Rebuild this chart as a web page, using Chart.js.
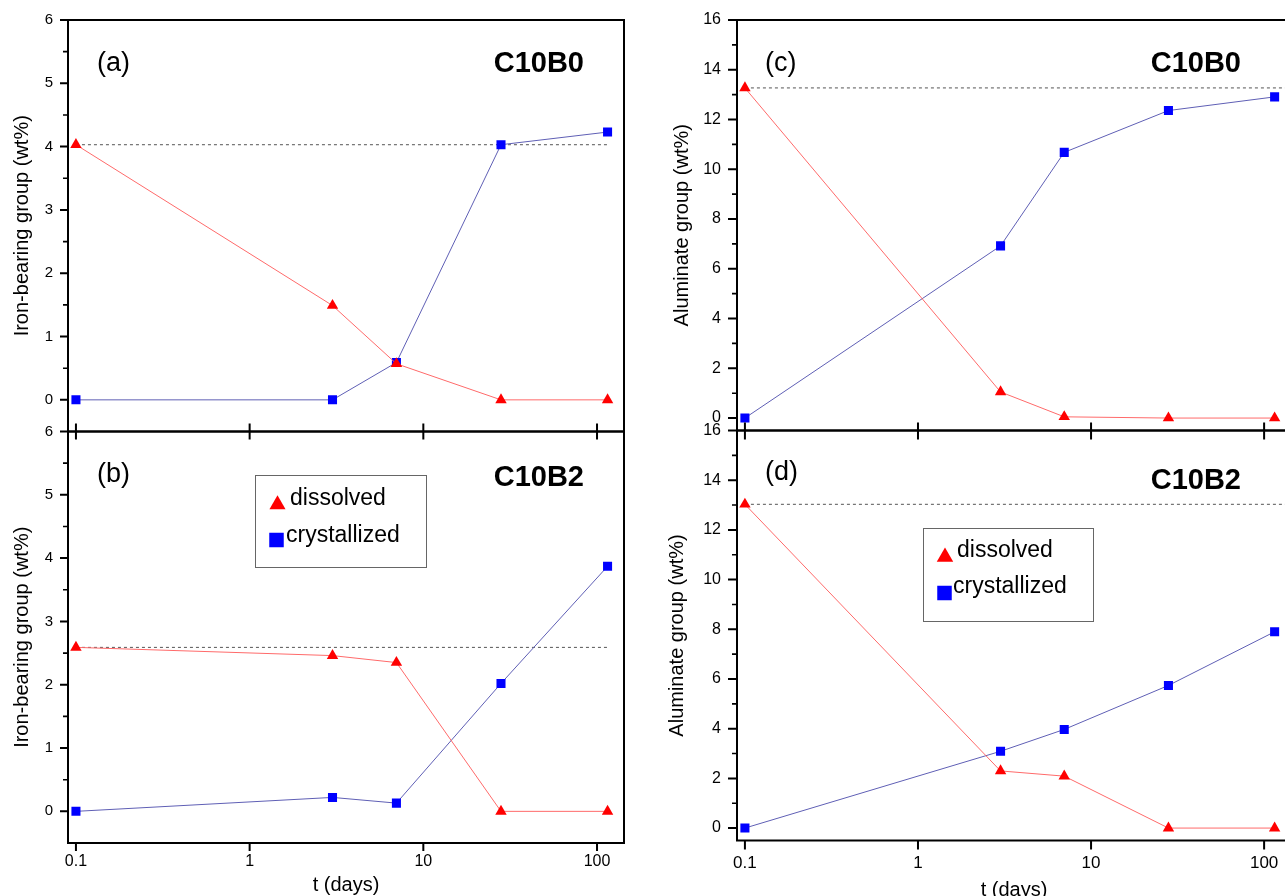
<!DOCTYPE html>
<html><head><meta charset="utf-8">
<script src="https://cdn.jsdelivr.net/npm/chart.js@4/dist/chart.umd.min.js"></script>
<style>
html,body{margin:0;padding:0;background:#fff;width:1285px;height:896px;overflow:hidden}
#wrap{position:relative;width:1285px;height:896px;overflow:hidden;background:#fff}
canvas{position:absolute}
</style></head><body>
<div id="wrap">
<canvas id="cA" width="640" height="445" style="left:0;top:0"></canvas>
<canvas id="cB" width="640" height="490" style="left:0;top:420px"></canvas>
<canvas id="cC" width="680" height="445" style="left:640px;top:0"></canvas>
<canvas id="cD" width="680" height="490" style="left:640px;top:420px"></canvas>
</div>
<script>
// ---- data ----
const days = [0.1, 3, 7, 28, 115];
const ironDissolvedB0 = [4.03, 1.49, 0.57, 0, 0];
const ironCrystB0     = [0, 0, 0.59, 4.03, 4.23];
const ironDissolvedB2 = [2.59, 2.46, 2.35, 0, 0];
const ironCrystB2     = [0, 0.22, 0.13, 2.02, 3.87];
const alDissolvedB0   = [13.27, 1.05, 0.05, 0, 0];
const alCrystB0       = [0, 6.92, 10.68, 12.36, 12.91];
const alDissolvedB2   = [13.03, 2.3, 2.09, 0, 0];
const alCrystB2       = [0, 3.09, 3.97, 5.74, 7.9];
const initialIronB0 = 4.03, initialIronB2 = 2.59, initialAlB0 = 13.27, initialAlB2 = 13.03;
const xTickValues = [0.1, 1, 10, 100];
const ironTicks = [0, 1, 2, 3, 4, 5, 6];
const ironMinor = [0.5, 1.5, 2.5, 3.5, 4.5, 5.5];
const alTicks = [0, 2, 4, 6, 8, 10, 12, 14, 16];
const alMinor = [1, 3, 5, 7, 9, 11, 13, 15];
const seriesNames = ['dissolved', 'crystallized'];
const panelTags = ['(a)', '(b)', '(c)', '(d)'];
const sampleNames = ['C10B0', 'C10B2'];
const ironTitle = 'Iron-bearing group (wt%)';
const alTitle = 'Aluminate group (wt%)';
const xTitle = 't (days)';

const X_MIN = 0.09, X_MAX = 143;
const FONT = '"Liberation Sans", Arial, Helvetica, sans-serif';
const RED = '#ff0000', BLUE = '#0000ff';

const toXY = (xs, ys) => xs.map((v, i) => ({x: v, y: ys[i]}));

const decoPlugin = {
  id: 'panelDeco',
  afterDraw(chart, args, o) {
    const {ctx, chartArea: a} = chart;
    const x = chart.scales.x, y = chart.scales.y;
    ctx.save();
    ctx.lineCap = 'butt';
    ctx.strokeStyle = '#000';
    ctx.lineWidth = 2;
    ctx.strokeRect(a.left, a.top, a.right - a.left, a.bottom - a.top);
    ctx.beginPath();
    o.yMajor.forEach(v => { const p = y.getPixelForValue(v); ctx.moveTo(a.left - o.majorLen, p); ctx.lineTo(a.left, p); });
    ctx.stroke();
    ctx.lineWidth = 1.6;
    ctx.beginPath();
    o.yMinor.forEach(v => { const p = y.getPixelForValue(v); ctx.moveTo(a.left - o.minorLen, p); ctx.lineTo(a.left, p); });
    ctx.stroke();
    ctx.lineWidth = 2;
    ctx.beginPath();
    xTickValues.forEach(v => { const p = x.getPixelForValue(v); ctx.moveTo(p, a.bottom - o.xUp); ctx.lineTo(p, a.bottom + o.xDown); });
    ctx.stroke();

    ctx.fillStyle = '#000';
    ctx.textBaseline = 'alphabetic';
    ctx.textAlign = 'left';
    ctx.font = '27px ' + FONT;
    ctx.fillText(o.tag, o.tagX, o.tagY);
    ctx.textAlign = 'right';
    ctx.font = 'bold 29px ' + FONT;
    ctx.fillText(o.name, o.nameX, o.nameY);

    if (o.legend) {
      const L = o.legend;
      ctx.strokeStyle = '#666';
      ctx.lineWidth = 1;
      ctx.strokeRect(L.x + 0.5, L.y + 0.5, L.w, L.h);
      ctx.fillStyle = RED;
      ctx.beginPath();
      ctx.moveTo(L.triX, L.triY - L.triR);
      ctx.lineTo(L.triX + L.triR * 0.866, L.triY + L.triR / 2);
      ctx.lineTo(L.triX - L.triR * 0.866, L.triY + L.triR / 2);
      ctx.closePath();
      ctx.fill();
      ctx.fillStyle = BLUE;
      ctx.fillRect(L.sqX - L.sq / 2, L.sqY - L.sq / 2, L.sq, L.sq);
      ctx.fillStyle = '#000';
      ctx.textAlign = 'left';
      ctx.font = '23px ' + FONT;
      ctx.fillText(seriesNames[0], L.t1X, L.t1Y);
      ctx.fillText(seriesNames[1], L.t2X, L.t2Y);
    }
    ctx.restore();
  }
};

function makeChart(id, c) {
  const zeroPad = s => { s.paddingLeft = 0; s.paddingRight = 0; s.paddingTop = 0; s.paddingBottom = 0; };
  return new Chart(document.getElementById(id), {
    type: 'scatter',
    data: {
      datasets: [
        {label: seriesNames[0], data: toXY(days, c.dissolved), showLine: true,
         borderColor: '#ff6a6a', borderWidth: 1, pointStyle: 'triangle', pointRadius: 6.6,
         pointBackgroundColor: RED, pointBorderColor: RED, pointBorderWidth: 0},
        {label: seriesNames[1], data: toXY(days, c.cryst), showLine: true,
         borderColor: '#5f5fb5', borderWidth: 1, pointStyle: 'rect', pointRadius: 6.4,
         pointBackgroundColor: BLUE, pointBorderColor: BLUE, pointBorderWidth: 0},
        {label: 'initial', data: [{x: days[0], y: c.level}, {x: c.refEnd, y: c.level}], showLine: true,
         borderColor: '#555', borderWidth: 1, borderDash: [3, 3], pointRadius: 0}
      ]
    },
    options: {
      responsive: false, animation: false, devicePixelRatio: 1,
      layout: {autoPadding: false, padding: {left: 0, top: c.padTop, right: c.padRight, bottom: c.padBottom}},
      plugins: {legend: {display: false}, tooltip: {enabled: false}, panelDeco: c.deco},
      scales: {
        x: {
          type: 'logarithmic', min: X_MIN, max: X_MAX, display: c.showX,
          grid: {display: false, drawTicks: false}, border: {display: false},
          ticks: {autoSkip: false, maxRotation: 0, padding: c.xTickPad, color: '#000',
                  font: {family: FONT, size: c.xFont}, callback: v => String(v)},
          title: {display: c.showX, text: xTitle, color: '#000', font: {family: FONT, size: 20},
                  padding: {top: 0, bottom: c.xTitlePad}},
          afterBuildTicks: s => { s.ticks = xTickValues.map(v => ({value: v})); },
          afterFit: s => { if (c.showX) s.height = c.xHeight; zeroPad(s); }
        },
        y: {
          type: 'linear', min: c.ymin, max: c.ymax,
          grid: {display: false, drawTicks: false}, border: {display: false},
          ticks: {autoSkip: false, padding: c.yTickPad, color: '#000', font: {family: FONT, size: c.yFont}},
          title: {display: true, text: c.yTitle, color: '#000', font: {family: FONT, size: 20},
                  padding: {top: c.yTitlePad, bottom: 0}},
          afterBuildTicks: s => { s.ticks = c.yMajor.map(v => ({value: v})); },
          afterFit: s => { s.width = c.yWidth; zeroPad(s); }
        }
      }
    },
    plugins: [decoPlugin]
  });
}

const last = days[days.length - 1];

makeChart('cA', {
  dissolved: ironDissolvedB0, cryst: ironCrystB0, level: initialIronB0, refEnd: last,
  padTop: 20, padRight: 16, padBottom: 13.5, showX: false, xHeight: 0, xTickPad: 0, xFont: 16, xTitlePad: 0,
  ymin: -0.5, ymax: 6, yMajor: ironTicks, yWidth: 68, yTickPad: 15, yFont: 15, yTitle: ironTitle, yTitlePad: 10,
  deco: {yMajor: ironTicks, yMinor: ironMinor, majorLen: 8, minorLen: 5, xUp: 8, xDown: 8,
         tag: panelTags[0], tagX: 97, tagY: 71, name: sampleNames[0], nameX: 584, nameY: 72}
});
makeChart('cB', {
  dissolved: ironDissolvedB2, cryst: ironCrystB2, level: initialIronB2, refEnd: last,
  padTop: 11.5, padRight: 16, padBottom: 0, showX: true, xHeight: 67, xTickPad: 9, xFont: 16, xTitlePad: 13,
  ymin: -0.5, ymax: 6, yMajor: ironTicks, yWidth: 68, yTickPad: 15, yFont: 15, yTitle: ironTitle, yTitlePad: 10,
  deco: {yMajor: ironTicks, yMinor: ironMinor, majorLen: 8, minorLen: 5, xUp: 0, xDown: 8,
         tag: panelTags[1], tagX: 97, tagY: 62, name: sampleNames[1], nameX: 584, nameY: 66,
         legend: {x: 255, y: 55, w: 171, h: 92, triX: 277.5, triY: 84.5, triR: 9.3, sqX: 276.5, sqY: 120, sq: 14.5,
                  t1X: 290, t1Y: 85, t2X: 286, t2Y: 122}}
});
makeChart('cC', {
  dissolved: alDissolvedB0, cryst: alCrystB0, level: initialAlB0, refEnd: X_MAX,
  padTop: 20, padRight: 29, padBottom: 14.5, showX: false, xHeight: 0, xTickPad: 0, xFont: 17, xTitlePad: 0,
  ymin: -0.5, ymax: 16, yMajor: alTicks, yWidth: 97, yTickPad: 16, yFont: 16, yTitle: alTitle, yTitlePad: 30,
  deco: {yMajor: alTicks, yMinor: alMinor, majorLen: 9, minorLen: 5, xUp: 8, xDown: 9,
         tag: panelTags[2], tagX: 125, tagY: 71, name: sampleNames[0], nameX: 601, nameY: 72}
});
makeChart('cD', {
  dissolved: alDissolvedB2, cryst: alCrystB2, level: initialAlB2, refEnd: X_MAX,
  padTop: 10.5, padRight: 29, padBottom: 0, showX: true, xHeight: 69.5, xTickPad: 13, xFont: 17, xTitlePad: 8,
  ymin: -0.5, ymax: 16, yMajor: alTicks, yWidth: 97, yTickPad: 16, yFont: 16, yTitle: alTitle, yTitlePad: 25,
  deco: {yMajor: alTicks, yMinor: alMinor, majorLen: 9, minorLen: 5, xUp: 0, xDown: 9,
         tag: panelTags[3], tagX: 125, tagY: 60, name: sampleNames[1], nameX: 601, nameY: 69,
         legend: {x: 283, y: 108, w: 170, h: 93, triX: 305, triY: 137, triR: 9.5, sqX: 304.5, sqY: 173, sq: 14.5,
                  t1X: 317, t1Y: 137, t2X: 313, t2Y: 173}}
});
</script>
</body></html>
